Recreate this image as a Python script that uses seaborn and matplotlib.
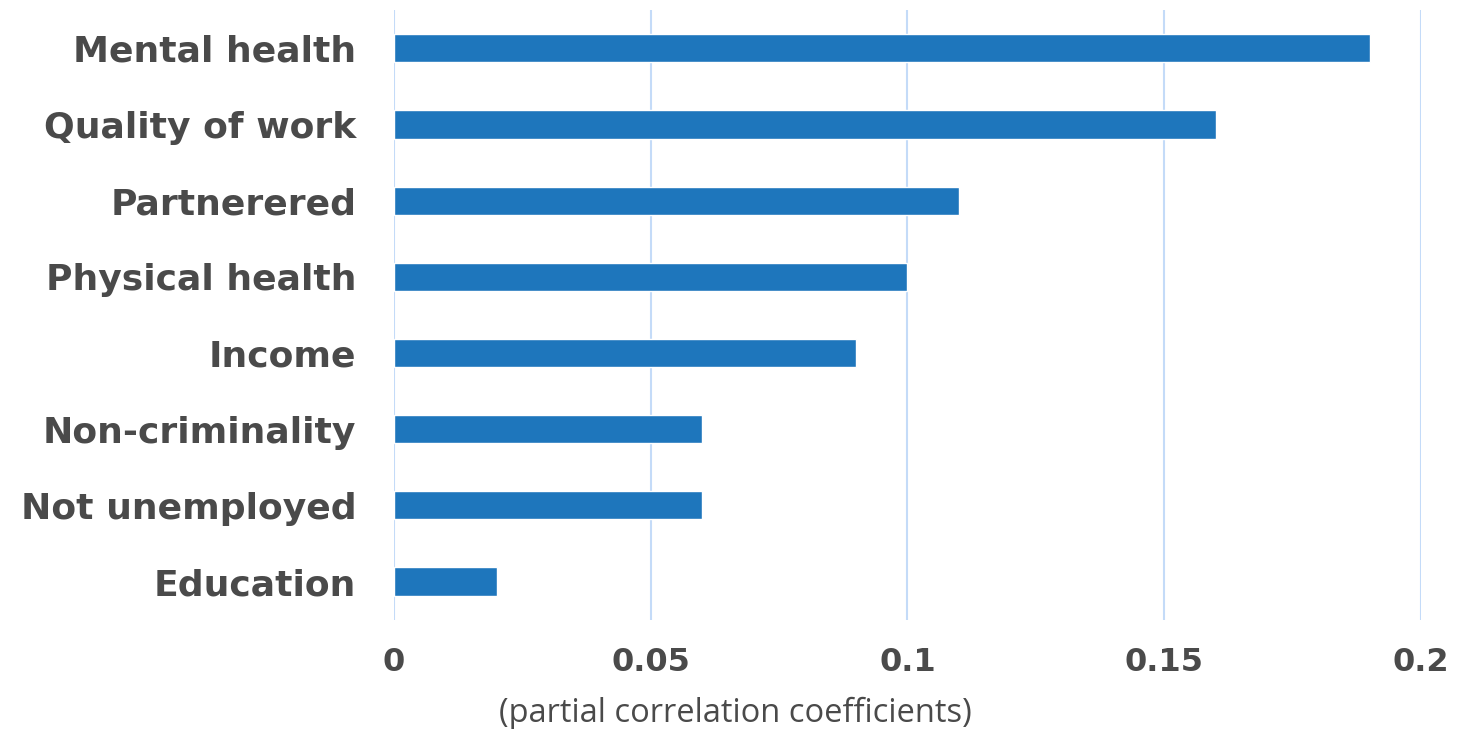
import matplotlib
matplotlib.use("Agg")
import matplotlib.pyplot as plt
import seaborn as sns
import pandas as pd

# Outcome categories and their partial correlation coefficients
categories = ["Mental health", "Quality of work", "Partnerered", "Physical health",
              "Income", "Non-criminality", "Not unemployed", "Education"]
values = [0.19, 0.16, 0.11, 0.10, 0.09, 0.06, 0.06, 0.02]
tick_values = [0, 0.05, 0.1, 0.15, 0.2]
tick_labels = ["0", "0.05", "0.1", "0.15", "0.2"]

df = pd.DataFrame({"category": categories, "value": values})

sns.set_theme(style="white")
plt.rcParams["font.family"] = ["DejaVu Sans"]

text_color = "#4a4a4a"
bar_color = "#1e76bc"
grid_color = "#c4dbf8"

fig = plt.figure(figsize=(14.59, 7.29), dpi=100)
ax = fig.add_axes([0.270, 0.150, 0.704, 0.836])

sns.barplot(data=df, x="value", y="category", orient="h", color=bar_color,
            saturation=1, width=0.37, ax=ax, zorder=3)

ax.set_xlim(0, 0.2)
ax.set_ylim(7.5, -0.5)
ax.set_xticks(tick_values)
ax.set_xticklabels(tick_labels, fontsize=23, fontweight="bold", color=text_color)
ax.tick_params(axis="y", labelsize=26, labelcolor=text_color, length=0, pad=27)
ax.tick_params(axis="x", length=0, pad=20)
for lbl in ax.get_yticklabels():
    lbl.set_fontweight("bold")

ax.xaxis.grid(True, color=grid_color, linewidth=1.5, zorder=0)
ax.yaxis.grid(False)
for s in ax.spines.values():
    s.set_visible(False)

ax.set_ylabel("")
ax.set_xlabel("")
fig.text(0.504, 0.022, "(partial correlation coefficients)", fontsize=23.5,
         color=text_color, fontfamily="Open Sans", ha="center", va="center")

fig.savefig("out.png", dpi=100)
